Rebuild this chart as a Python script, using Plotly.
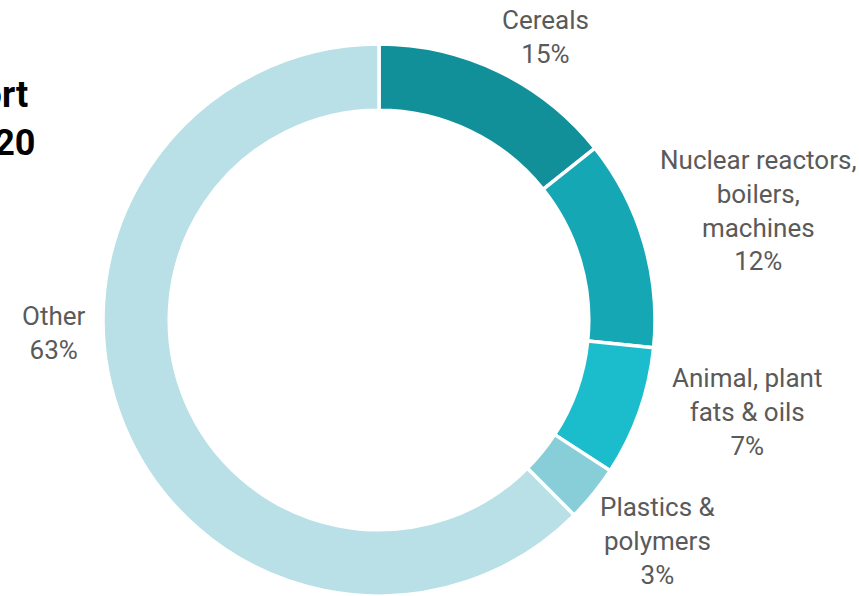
import plotly.graph_objects as go

W, H = 859, 596

# ---- data ----
categories = ["Cereals", "Nuclear reactors,<br>boilers,<br>machines",
              "Animal, plant<br>fats & oils", "Plastics &<br>polymers", "Other"]
shares = [14.3, 12.3, 7.6, 3.3, 62.5]          # slice sizes as read from the ring
pct_labels = ["15%", "12%", "7%", "3%", "63%"]  # percentages printed on the chart
title_lines = ["Structure of Ukraine's export", "by product groups, 2020"]

# ---- style ----
colors = ["#11909a", "#15a7b4", "#1bbdcd", "#87ced8", "#b8e0e6"]
# label centres in pixels (x, y)
label_pos = [(545, 37), (758, 210), (747, 412), (658, 541), (54, 333)]
cx, cy, R = 379, 320, 276

fig = go.Figure(go.Pie(
    labels=categories,
    values=shares,
    hole=0.76,
    sort=False,
    direction="clockwise",
    rotation=0,
    marker=dict(colors=colors, line=dict(color="white", width=3.5)),
    textinfo="none",
    hoverinfo="label+percent",
    domain=dict(x=[(cx - R) / W, (cx + R) / W], y=[1 - (cy + R) / H, 1 - (cy - R) / H]),
    showlegend=False,
))

for lab, pct, (px, py) in zip(categories, pct_labels, label_pos):
    fig.add_annotation(
        text=f"{lab}<br>{pct}",
        x=px / W, y=1 - py / H, xref="paper", yref="paper",
        xanchor="center", yanchor="middle", showarrow=False, align="center",
        font=dict(family="Roboto", size=26, color="#5a5a5a"),
    )

for line, (rx, ry) in zip(title_lines, [(30, 95), (38, 143)]):
    fig.add_annotation(
        text=f"<b>{line}</b>", x=rx / W, y=1 - ry / H, xref="paper", yref="paper",
        xanchor="right", yanchor="middle", showarrow=False,
        font=dict(family="Roboto", size=36, color="#000000"),
    )

fig.update_layout(
    width=W, height=H,
    margin=dict(l=0, r=0, t=0, b=0),
    paper_bgcolor="white", plot_bgcolor="white",
)

fig.write_html("out.html", config={"displayModeBar": False},
               post_script="document.body.style.margin='0';")
